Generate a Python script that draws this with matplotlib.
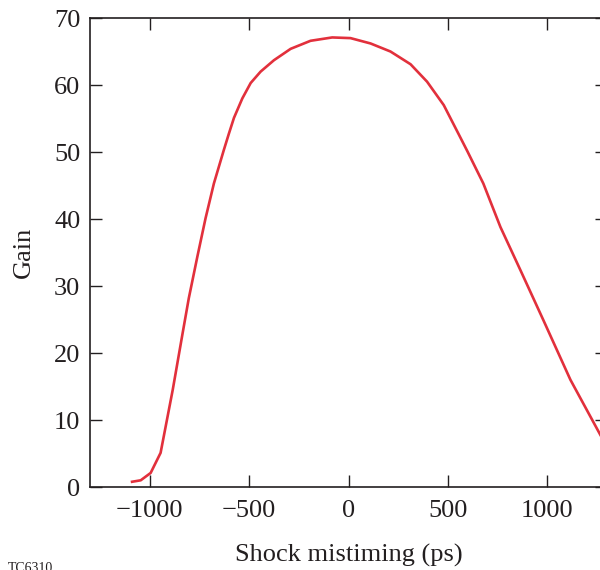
import matplotlib
matplotlib.use("Agg")
import matplotlib.pyplot as plt

# Data
mistiming_ps = [-1095, -1045, -995, -945, -884, -834, -803, -760, -719, -677,
                -627, -602, -576, -534, -492, -442, -375, -291, -191, -82,
                10, 111, 211, 312, 395, 479, 555, 598, 678, 764,
                864, 980, 1116, 1266, 1300]
gain = [0.75, 1.0, 2.1, 5.1, 14.5, 23.0, 28.2, 34.4, 40.1, 45.3,
        50.3, 52.7, 55.1, 58.0, 60.3, 62.0, 63.7, 65.4, 66.6, 67.1,
        67.0, 66.2, 65.0, 63.1, 60.5, 57.0, 52.6, 50.1, 45.3, 38.8,
        32.4, 24.9, 16.0, 7.8, 5.9]
x_ticks = [-1000, -500, 0, 500, 1000]
y_ticks = [0, 10, 20, 30, 40, 50, 60, 70]

plt.rcParams['font.family'] = ['Liberation Serif', 'DejaVu Serif']
ink = '#231f20'

fig = plt.figure(figsize=(6.0, 5.7), dpi=100)
ax = fig.add_axes([0.15, 0.1456, 1.0117 - 0.15, 0.9684 - 0.1456])

ax.plot(mistiming_ps, gain, color='#E2303C', lw=1.9,
        solid_joinstyle='round', solid_capstyle='butt')

ax.set_xlim(-1300, 1300)
ax.set_ylim(0, 70)
ax.set_xticks(x_ticks)
ax.set_yticks(y_ticks)
ax.set_xticklabels([f"\u2212{abs(v)}" if v < 0 else str(v) for v in x_ticks])
ax.tick_params(direction='in', length=8.5, width=1.0, color=ink,
               labelsize=19, labelcolor=ink, pad=7,
               top=True, right=True)
ax.tick_params(axis='x', pad=9)
for s in ax.spines.values():
    s.set_linewidth(1.2)
    s.set_color(ink)

ax.set_xlabel('Shock mistiming (ps)', fontsize=19, color=ink, labelpad=16)
ax.set_ylabel('Gain', fontsize=19, color=ink, labelpad=14)

fig.text(0.013, -0.008, 'TC6310', fontsize=10, color=ink, va='bottom', ha='left')

fig.savefig('out.png', dpi=100)
